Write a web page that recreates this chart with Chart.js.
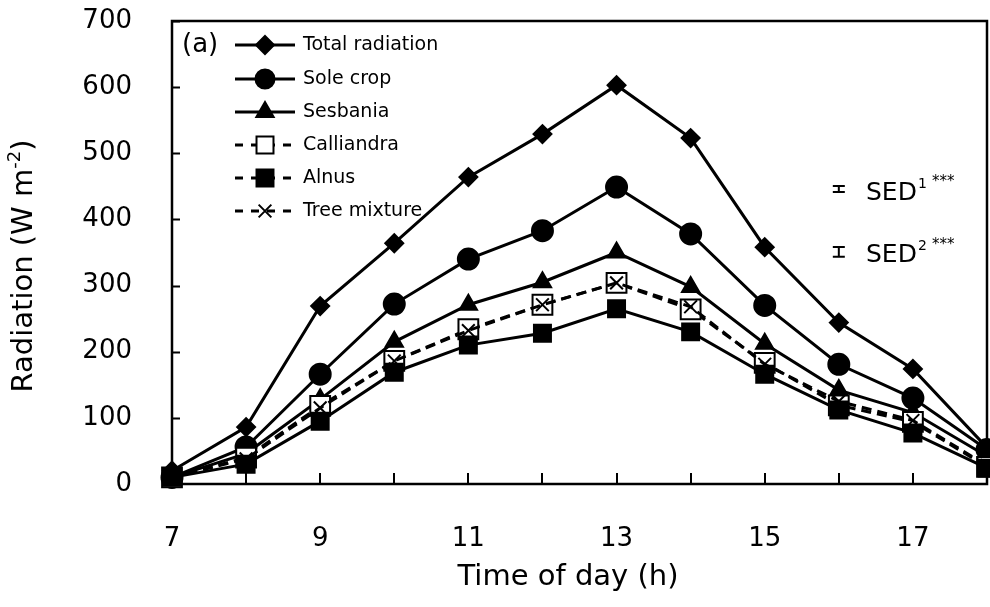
<!DOCTYPE html>
<html><head><meta charset="utf-8">
<script src="https://cdn.jsdelivr.net/npm/chart.js@4/dist/chart.umd.min.js"></script>
<style>html,body{margin:0;padding:0;background:#fff;overflow:hidden}#wrap{width:990px;height:607px}</style>
</head><body><div id="wrap"><canvas id="c" width="990" height="607"></canvas></div>
<script>
// ---- data ----
const hours = [7, 8, 9, 10, 11, 12, 13, 14, 15, 16, 17, 18];
const totalRadiation = [20, 86, 269, 364, 464, 529, 603, 523, 358, 244, 174, 55];
const soleCrop = [10, 56, 166, 272, 340, 383, 449, 378, 270, 181, 130, 52];
const sesbania = [10, 46, 128, 215, 271, 305, 350, 298, 212, 142, 108, 42];
const calliandra = [10, 40, 118, 186, 234, 271, 304, 264, 183, 119, 94, 26];
const alnus = [10, 30, 95, 169, 210, 228, 265, 230, 166, 112, 77, 24];
const treeMixture = [10, 38, 115, 186, 232, 271, 304, 268, 181, 125, 96, 28];
const seriesNames = ['Total radiation', 'Sole crop', 'Sesbania', 'Calliandra', 'Alnus', 'Tree mixture'];
const yTickValues = [0, 100, 200, 300, 400, 500, 600, 700];
const xTickLabels = [7, 9, 11, 13, 15, 17];
const sedNames = ['SED', 'SED'];
const sedSup = ['1', '2'];
const sedStars = ['***', '***'];
const sedValues = [9, 15];
const sedAt = [[16, 446], [16, 351]];

const FONT = "'DejaVu Sans', Verdana, sans-serif";
Chart.defaults.font.family = FONT;
Chart.defaults.color = '#000';

function pts(arr) { return arr.map((v, i) => ({ x: hours[i], y: v })); }

function mk(label, data, style, r, fill, dash, legendDash, order) {
  return {
    label, data: pts(data), pointStyle: style, pointRadius: r, pointHoverRadius: r,
    pointBackgroundColor: fill, pointBorderColor: '#000', pointBorderWidth: 2,
    borderColor: '#000', borderWidth: 3, borderDash: dash, backgroundColor: fill,
    tension: 0, fill: false, clip: false, order, legendDash
  };
}

const datasets = [
  mk(seriesNames[0], totalRadiation, 'rectRot', 9, '#000', [], false, 5),
  mk(seriesNames[1], soleCrop, 'circle', 10.5, '#000', [], false, 4),
  mk(seriesNames[2], sesbania, 'triangle', 10, '#000', [], false, 3),
  mk(seriesNames[3], calliandra, 'rect', 14, '#fff', [10, 6], true, 2),
  mk(seriesNames[4], alnus, 'rect', 12, '#000', [], true, 1),
  mk(seriesNames[5], treeMixture, 'crossRot', 9, '#000', [10, 6], true, 0)
];

function drawMarker(ctx, style, x, y, r, fill) {
  ctx.save();
  ctx.fillStyle = fill; ctx.strokeStyle = '#000'; ctx.lineWidth = 2; ctx.setLineDash([]);
  ctx.beginPath();
  if (style === 'circle') { ctx.arc(x, y, r, 0, Math.PI * 2); ctx.fill(); ctx.stroke(); }
  else if (style === 'rectRot') { ctx.moveTo(x, y - r); ctx.lineTo(x + r, y); ctx.lineTo(x, y + r); ctx.lineTo(x - r, y); ctx.closePath(); ctx.fill(); ctx.stroke(); }
  else if (style === 'triangle') {
    for (let k = 0; k < 3; k++) { const a = k * 2 * Math.PI / 3; const px = x + Math.sin(a) * r, py = y - Math.cos(a) * r; k ? ctx.lineTo(px, py) : ctx.moveTo(px, py); }
    ctx.closePath(); ctx.fill(); ctx.stroke();
  } else if (style === 'rect') { const s = r * Math.SQRT1_2; ctx.rect(x - s, y - s, 2 * s, 2 * s); ctx.fill(); ctx.stroke(); }
  else if (style === 'crossRot') { const s = r * Math.SQRT1_2; ctx.moveTo(x - s, y - s); ctx.lineTo(x + s, y + s); ctx.moveTo(x + s, y - s); ctx.lineTo(x - s, y + s); ctx.stroke(); }
  ctx.restore();
}

const framePlugin = {
  id: 'frame',
  beforeDatasetsDraw(chart) {
    const { ctx, chartArea: a, scales: { x, y } } = chart;
    ctx.save();
    ctx.strokeStyle = '#000'; ctx.lineWidth = 2.5;
    ctx.strokeRect(a.left, a.top, a.right - a.left, a.bottom - a.top);
    ctx.lineWidth = 2;
    ctx.beginPath();
    yTickValues.forEach(v => { const py = Math.round(y.getPixelForValue(v)) + 0.5; ctx.moveTo(a.left, py); ctx.lineTo(a.left + 8, py); });
    for (let h = hours[0] + 1; h < hours[hours.length - 1]; h++) { const px = Math.round(x.getPixelForValue(h)); ctx.moveTo(px, a.bottom); ctx.lineTo(px, a.bottom - 11); }
    ctx.stroke();
    ctx.restore();
  },
  afterDraw(chart) {
    const { ctx, chartArea: a, scales: { x, y } } = chart;
    ctx.save();
    // legend
    ctx.fillStyle = '#000';
    ctx.font = '26px ' + FONT; ctx.textBaseline = 'middle'; ctx.textAlign = 'left';
    ctx.fillText('(a)', 182, 45);
    const rowY = [45, 79, 112, 145, 178, 211];
    chart.data.datasets.forEach((ds, i) => {
      const yy = rowY[i];
      ctx.strokeStyle = '#000'; ctx.lineWidth = 3;
      ctx.setLineDash(ds.legendDash ? [8, 8] : []);
      ctx.beginPath(); ctx.moveTo(235, yy); ctx.lineTo(295, yy); ctx.stroke();
      ctx.setLineDash([]);
      const r = ds.pointStyle === 'circle' ? 9.5 : (ds.pointStyle === 'rect' ? 12 : ds.pointRadius);
      drawMarker(ctx, ds.pointStyle, 265, yy, r, ds.pointBackgroundColor);
      ctx.fillStyle = '#000'; ctx.font = '19px ' + FONT; ctx.textBaseline = 'middle';
      ctx.fillText(ds.label, 303, yy);
    });
    // SED bars
    sedValues.forEach((v, i) => {
      const cx = x.getPixelForValue(sedAt[i][0]);
      const cy = y.getPixelForValue(sedAt[i][1]);
      const t = y.getPixelForValue(sedAt[i][1] + v / 2), b = y.getPixelForValue(sedAt[i][1] - v / 2);
      ctx.strokeStyle = '#000'; ctx.lineWidth = 2;
      ctx.beginPath();
      ctx.moveTo(cx, t); ctx.lineTo(cx, b);
      ctx.moveTo(cx - 6, t); ctx.lineTo(cx + 6, t);
      ctx.moveTo(cx - 6, b); ctx.lineTo(cx + 6, b);
      ctx.stroke();
      const ty = cy + 4;
      ctx.fillStyle = '#000'; ctx.textBaseline = 'middle'; ctx.textAlign = 'left';
      ctx.font = '25px ' + FONT; ctx.fillText(sedNames[i], 866, ty);
      const w = ctx.measureText(sedNames[i]).width;
      ctx.font = '14px ' + FONT; ctx.fillText(sedSup[i], 866 + w + 1, ty - 9);
      ctx.font = '15px ' + FONT; ctx.fillText(sedStars[i], 932, ty - 11);
    });
    // axis titles
    ctx.textAlign = 'center'; ctx.textBaseline = 'alphabetic';
    ctx.font = '29px ' + FONT;
    ctx.fillText('Time of day (h)', 568, 585);
    ctx.translate(32, 266); ctx.rotate(-Math.PI / 2);
    const p1 = 'Radiation (W m', p2 = '-2', p3 = ')';
    ctx.font = '29px ' + FONT; const w1 = ctx.measureText(p1).width, w3 = ctx.measureText(p3).width;
    ctx.font = '18px ' + FONT; const w2 = ctx.measureText(p2).width;
    let sx = -(w1 + w2 + w3) / 2;
    ctx.textAlign = 'left';
    ctx.font = '29px ' + FONT; ctx.fillText(p1, sx, 0); sx += w1;
    ctx.font = '18px ' + FONT; ctx.fillText(p2, sx, -12); sx += w2;
    ctx.font = '29px ' + FONT; ctx.fillText(p3, sx, 0);
    ctx.restore();
  }
};

new Chart(document.getElementById('c'), {
  type: 'line',
  data: { datasets },
  options: {
    responsive: false, animation: false, devicePixelRatio: 1,
    layout: { autoPadding: false, padding: { left: 0, top: 21, right: 3, bottom: 0 } },
    plugins: { legend: { display: false }, tooltip: { enabled: false } },
    scales: {
      x: {
        type: 'linear', min: 7, max: 18,
        grid: { display: false }, border: { display: false },
        ticks: { stepSize: 1, autoSkip: false, maxRotation: 0, padding: 32, font: { size: 26 }, color: '#000',
          callback: v => xTickLabels.includes(v) ? String(v) : '' },
        afterFit: s => { s.height = 123; s.paddingLeft = 0; s.paddingRight = 0; }
      },
      y: {
        min: 0, max: 700,
        grid: { display: false }, border: { display: false },
        ticks: { stepSize: 100, padding: 32, font: { size: 26 }, color: '#000',
          callback: v => yTickValues.includes(v) ? String(v) : '' },
        afterFit: s => { s.width = 172; s.paddingTop = 0; s.paddingBottom = 0; }
      }
    }
  },
  plugins: [framePlugin]
});
</script></body></html>
